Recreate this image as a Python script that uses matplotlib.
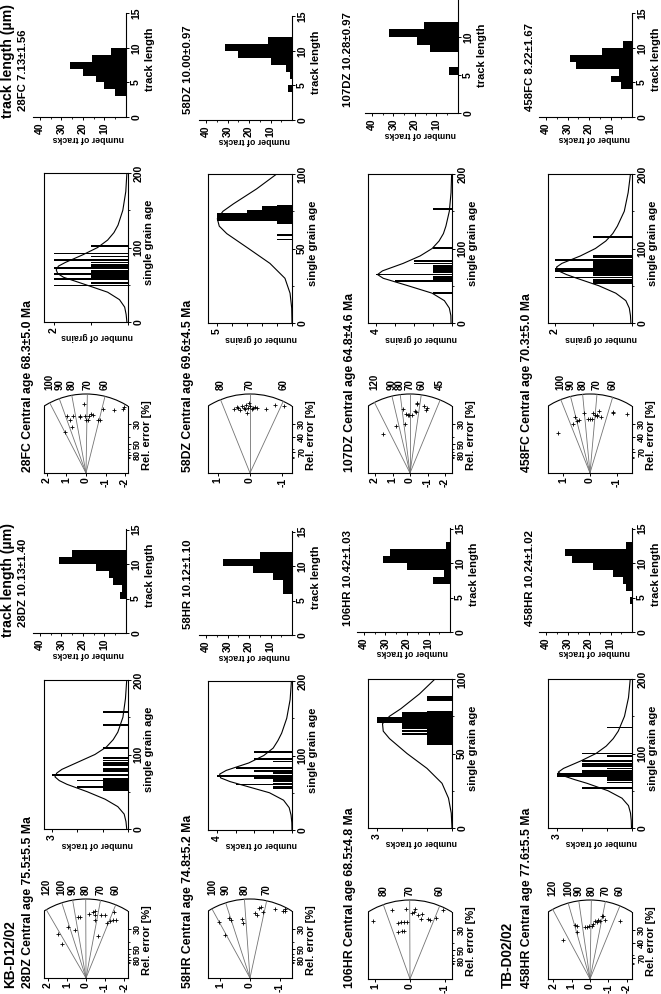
import numpy as np
import matplotlib.pyplot as plt
from matplotlib.patches import Arc

plt.rcParams["font.family"] = ["Liberation Sans", "DejaVu Sans"]
plt.rcParams["font.weight"] = "bold"
plt.rcParams["axes.linewidth"] = 0.8
for a in ("xtick", "ytick"):
    plt.rcParams[a + ".direction"] = "out"
    plt.rcParams[a + ".major.size"] = 2.5
    plt.rcParams[a + ".minor.size"] = 1.5
    plt.rcParams[a + ".major.width"] = 0.7
    plt.rcParams[a + ".minor.width"] = 0.6
    plt.rcParams[a + ".major.pad"] = 1.2
    plt.rcParams[a + ".labelsize"] = 7.5

# ---- labels ----
SAMPLES = ["28DZ", "58HR", "106HR", "458HR", "28FC", "58DZ", "107DZ", "458FC"]
CENTRAL_AGE = ["75.5±5.5", "74.8±5.2", "68.5±4.8", "77.6±5.5",
               "68.3±5.0", "69.6±4.5", "64.8±4.6", "70.3±5.0"]
MEAN_LENGTH = ["10.13±1.40", "10.12±1.10", "10.42±1.03", "10.24±1.02",
               "7.13±1.56", "10.00±0.97", "10.28±0.97", "8.22±1.67"]
COUNT_NAME = ["number of tracks"] * 4 + ["number of grains"] * 4

# ---- radial plots: standardised estimate (z) vs precision (p) ----
R28DZ_Z = [1.47, 1.26, 0.96, 0.60, 0.44, 0.33, -0.18, -0.37, -0.49, -0.46, -0.49,
           -0.62, -0.76, -0.98, -1.12, -1.28, -1.46, -1.44, -1.55]
R28DZ_P = [3.0, 2.3, 3.5, 3.3, 4.2, 4.2, 4.4, 4.5, 4.6, 4.3, 4.0,
           2.9, 4.3, 4.3, 3.8, 3.9, 4.5, 4.0, 4.0]
R58HR_Z = [1.05, 0.85, 0.70, 0.64, 0.28, 0.22, -0.17, -0.23, -0.31, -0.37, -0.45,
           -0.85, -1.13, -1.17, -1.19]
R58HR_P = [3.84, 2.94, 4.08, 3.98, 4.05, 3.77, 4.42, 4.33, 4.77, 4.85, 4.51,
           4.74, 4.6, 4.74, 4.57]
R106HR_Z = [1.05, 0.52, 0.33, 0.24, 0.17, 0.33, 0.27, 0.17, 0.08, 0.11, -0.05,
            -0.11, -0.14, -0.24, -0.33, -0.31, -0.52, -0.57, -0.74, -0.95]
R106HR_P = [4.0, 4.7, 3.24, 3.31, 3.31, 3.84, 3.89, 3.89, 3.93, 4.81, 4.53,
            4.58, 4.81, 4.35, 4.47, 4.12, 4.12, 4.07, 4.19, 4.7]
R458HR_Z = [1.46, 0.82, 0.73, 0.69, 0.27, 0.18, 0.04, -0.09, -0.18, -0.27, -0.37,
            -0.45, -0.55, -0.64, -0.73, -0.82, -1.64]
R458HR_P = [2.7, 3.7, 3.6, 3.2, 3.57, 3.54, 3.6, 3.6, 3.78, 3.94, 3.88,
            4.06, 3.99, 4.29, 4.29, 4.02, 3.94]
R28FC_Z = [1.09, 0.97, 0.83, 0.74, 0.68, 0.32, 0.29, 0.07, 0.0, -0.10, -0.17,
           -0.27, -0.34, -0.61, -0.73, -0.87, -1.41, -1.87, -1.92, 0.12]
R28FC_P = [2.79, 3.91, 3.65, 3.12, 3.87, 3.87, 3.83, 3.87, 3.65, 3.61, 3.91,
           4.04, 3.95, 3.65, 3.61, 4.36, 4.34, 4.4, 4.51, 4.73]
R58DZ_Z = [0.51, 0.41, 0.36, 0.31, 0.26, 0.20, 0.17, 0.13, 0.10, 0.07, 0.03,
           0.0, -0.05, -0.10, -0.15, -0.21, -0.51, -0.77, -1.06]
R58DZ_P = [4.35, 4.53, 4.42, 4.31, 4.58, 4.42, 4.35, 4.64, 4.14, 4.42, 4.79,
           4.58, 4.35, 4.46, 4.51, 4.42, 4.35, 4.68, 4.61]
R107DZ_Z = [1.52, 0.82, 0.42, 0.29, 0.23, 0.13, 0.04, -0.13, -0.29, -0.34, -0.38,
            -0.42, -0.80, -0.91, -0.99]
R107DZ_P = [2.67, 3.22, 4.38, 3.35, 4.05, 3.99, 3.95, 3.99, 4.28, 4.16, 4.78,
            4.71, 4.6, 4.32, 4.45]
R458FC_Z = [1.20, 0.65, 0.57, 0.48, 0.40, 0.23, 0.06, 0.0, -0.06, -0.13, -0.19,
            -0.25, -0.28, -0.35, -0.40, -0.86, -0.88, -1.38]
R458FC_P = [2.77, 3.33, 3.82, 3.55, 3.62, 4.11, 3.67, 3.67, 3.67, 4.11, 4.0,
            4.0, 3.89, 4.22, 3.84, 4.17, 4.11, 4.04]

RAD_AGES = [[120, 100, 90, 80, 70, 60], [100, 90, 80, 70], [80, 70, 60],
            [120, 100, 90, 80, 70, 60], [100, 90, 80, 70, 60], [80, 70, 60],
            [120, 90, 80, 70, 60, 45], [100, 90, 80, 70, 60]]
RAD_REF_AGE = [79.8, 77.4, 69.9, 81.0, 70.8, 70.0, 70.0, 74.7]
RAD_GAIN = [1.09, 1.06, 1.11, 1.09, 1.12, 1.36, 0.78, 0.75]
RAD_ZMAX = [2.2, 1.42, 1.2, 2.3, 2.15, 1.3, 2.4, 1.58]
RAD_ERR = [[80, 50, 30], [80, 50, 30], [80, 50, 30], [70, 40, 30],
           [80, 50, 30], [70, 40, 30], [80, 50, 30], [70, 40, 30]]

# ---- single grain age histograms ----
H28DZ_AGE = [157, 140, 109, 95, 92, 89, 86, 81, 78, 72, 67, 65, 63, 61, 59, 56, 54, 52]
H28DZ_N = [1, 1, 1, 1, 1, 1, 1, 1, 1, 3, 1, 2, 1, 1, 1, 2, 1, 1]
H58HR_AGE = [105, 95, 92, 83, 79, 76, 72, 70, 67, 65, 62, 61, 58, 56]
H58HR_N = [2, 2, 1, 3, 2, 1, 4, 2, 1, 1, 1, 3, 1, 1]
H106HR_AGE = [88, 87, 86, 78, 77, 76, 75, 74, 73, 72, 71, 70, 69, 68, 67, 66, 65,
              64, 63, 62, 61, 60, 59, 58, 57, 56]
H106HR_N = [1, 1, 1, 1, 2, 2, 2, 3, 3, 3, 3, 2, 2, 2, 2, 1, 2,
            1, 2, 1, 1, 1, 1, 1, 1, 1]
H458HR_AGE = [135, 100, 97, 90, 86, 83, 80, 77, 74, 72, 70, 67, 64, 61, 54]
H458HR_N = [1, 2, 1, 2, 2, 2, 1, 2, 2, 3, 3, 1, 1, 1, 2]
H28FC_AGE = [102, 92, 88, 83, 80, 77, 74, 72, 68, 66, 64, 62, 60, 58, 52, 49]
H28FC_N = [1, 2, 1, 2, 1, 1, 1, 2, 1, 1, 2, 1, 1, 2, 1, 2]
H58DZ_AGE = [79, 78, 77, 76, 75, 74, 73, 72, 71, 70, 69, 68, 67, 59, 56]
H58DZ_N = [1, 2, 2, 2, 3, 3, 5, 5, 5, 5, 5, 1, 1, 1, 1]
H107DZ_AGE = [153, 101, 83, 80, 77, 74, 71, 68, 65, 62, 59, 56, 40]
H107DZ_N = [1, 1, 2, 2, 1, 1, 1, 1, 4, 1, 1, 3, 1]
H458FC_AGE = [115, 90, 88, 85, 82, 80, 78, 76, 74, 72, 70, 68, 66, 64, 61, 58, 56, 54]
H458FC_N = [1, 1, 1, 2, 1, 1, 1, 1, 1, 2, 2, 1, 1, 1, 2, 1, 1, 1]

AGE_MAX = [200, 200, 100, 200, 200, 100, 200, 200]
COUNT_MAX = [3.3, 4.47, 3.36, 3.36, 2.27, 5.6, 4.4, 2.18]
COUNT_TOP = [3, 4, 3, 3, 2, 5, 4, 2]

# probability curves
CURVE_AGE_200 = [0, 10, 20, 30, 40, 50, 60, 65, 70, 75, 80, 90, 100, 110, 120, 130, 150, 175, 200]
CURVE_AGE_100 = [0, 10, 20, 30, 40, 50, 60, 65, 70, 75, 80, 90, 100]
C28DZ = [0.05, 0.08, 0.15, 0.4, 0.9, 1.6, 2.4, 2.7, 2.87, 2.8, 2.6, 1.95, 1.3, 0.85, 0.58, 0.4, 0.2, 0.1, 0.05]
C58HR = [0.0, 0.01, 0.05, 0.15, 0.45, 1.2, 2.6, 3.3, 3.8, 3.85, 3.5, 2.3, 1.5, 1.0, 0.75, 0.55, 0.28, 0.1, 0.03]
C106HR = [0.0, 0.03, 0.14, 0.4, 1.0, 1.8, 2.5, 2.75, 2.78, 2.5, 2.05, 1.3, 0.68]
C458HR = [0.02, 0.03, 0.06, 0.14, 0.4, 0.96, 1.8, 2.3, 2.74, 2.95, 2.74, 2.05, 1.44, 1.03, 0.75, 0.55, 0.3, 0.14, 0.07]
C28FC = [0.03, 0.05, 0.09, 0.23, 0.55, 1.14, 1.74, 1.9, 1.94, 1.88, 1.69, 1.23, 0.82, 0.55, 0.38, 0.27, 0.14, 0.06, 0.03]
C58DZ = [0.0, 0.02, 0.13, 0.47, 1.47, 2.9, 4.35, 4.85, 4.98, 4.6, 3.9, 2.36, 1.02]
C107DZ = [0.05, 0.06, 0.14, 0.4, 1.04, 2.3, 3.6, 3.9, 3.64, 3.1, 2.56, 1.67, 1.04, 0.68, 0.45, 0.32, 0.14, 0.05, 0.02]
C458FC = [0.03, 0.04, 0.07, 0.16, 0.42, 0.86, 1.43, 1.7, 1.91, 1.96, 1.82, 1.34, 0.95, 0.68, 0.5, 0.38, 0.2, 0.1, 0.04]

# ---- track length histograms (1 um bins) ----
TL_START = [5, 6, 7, 4, 3, 4, 5, 4]
T28DZ = [3, 2, 6, 8, 14, 31, 25]
T58HR = [4, 4, 9, 18, 32, 15]
T106HR = [8, 3, 20, 31, 28, 2]
T458HR = [1, 0, 3, 4, 9, 18, 28, 31, 3]
T28FC = [5, 10, 14, 20, 26, 16, 7]
T58DZ = [2, 0, 1, 3, 10, 25, 31, 11]
T107DZ = [4, 0, 0, 13, 19, 32, 16]
T458FC = [5, 10, 6, 26, 29, 14, 4]

RAD_Z = [R28DZ_Z, R58HR_Z, R106HR_Z, R458HR_Z, R28FC_Z, R58DZ_Z, R107DZ_Z, R458FC_Z]
RAD_P = [R28DZ_P, R58HR_P, R106HR_P, R458HR_P, R28FC_P, R58DZ_P, R107DZ_P, R458FC_P]
HIST_AGE = [H28DZ_AGE, H58HR_AGE, H106HR_AGE, H458HR_AGE, H28FC_AGE, H58DZ_AGE, H107DZ_AGE, H458FC_AGE]
HIST_N = [H28DZ_N, H58HR_N, H106HR_N, H458HR_N, H28FC_N, H58DZ_N, H107DZ_N, H458FC_N]
CURVES = [C28DZ, C58HR, C106HR, C458HR, C28FC, C58DZ, C107DZ, C458FC]
TRACKS = [T28DZ, T58HR, T106HR, T458HR, T28FC, T58DZ, T107DZ, T458FC]

# ---- layout in output pixels (figure is drawn turned by 90 degrees) ----
W, H = 661, 994
ROW_X = [(44, 128), (208, 292), (368, 452), (548, 632)]
RAD_ORG = [978, 978, 979, 979, 473, 473, 473, 473]
HIST_Y0 = [829, 830, 828, 828, 322, 323, 323, 323]
TL_Y0 = [633, 635, 632, 632, 117, 120, 113, 117]
TL_PX_UM = [6.9, 6.9, 6.9, 6.9, 6.9, 6.9, 7.6, 6.9]
TL_SPINE = [126, 292, 450, 632, 126, 292, 458, 632]
TITLE_X = [28, 188, 350, 527]
TL_TITLE_X = [23, 188, 348, 530]

fig = plt.figure(figsize=(W / 100, H / 100), dpi=100)


def px_axes(x0, x1, y0, y1):
    return fig.add_axes([x0 / W, 1 - y1 / H, (x1 - x0) / W, (y1 - y0) / H])


def ftext(x, y, s, size, rot=90, ha="center", va="center"):
    fig.text(x / W, 1 - y / H, s, fontsize=size, rotation=rot, ha=ha, va=va,
             fontweight="bold")


def draw_radial(i, sp=14.6, R=79):
    x0, x1 = ROW_X[i % 4]
    yo = RAD_ORG[i]
    zmax = RAD_ZMAX[i]
    ax = px_axes(x0, x1, yo - R - 1, yo)
    sz = (x1 - x0) / (2 * zmax)
    ax.set_xlim(zmax, -zmax)
    ax.set_ylim(0, (R + 1) / sp)
    ax.spines["top"].set_visible(False)
    phi = np.arcsin(min(1.0, zmax * sz / R))
    p_edge = R * np.cos(phi) / sp
    ax.spines["left"].set_bounds(0, p_edge)
    ax.spines["right"].set_bounds(0, p_edge)
    ax.add_patch(Arc((0, 0), 2 * R / sz, 2 * R / sp, theta1=90 - np.degrees(phi),
                     theta2=90 + np.degrees(phi), color="k", lw=0.8))
    for t in RAD_AGES[i]:
        m = RAD_GAIN[i] * np.log(t / RAD_REF_AGE[i])
        pe = R / np.hypot(m * sz, sp)
        ze = m * pe
        ax.plot([0, ze], [0, pe], color="0.45", lw=0.6)
        ax.text(ze, (R + 4) / sp, str(t), rotation=90, ha="center", va="bottom",
                fontsize=7, fontweight="bold")
    ax.plot(RAD_Z[i], RAD_P[i], "+", color="k", ms=3.5, mew=0.6)
    zt = [2, 1, 0, -1, -2] if zmax > 2 else [1, 0, -1]
    ax.set_xticks(zt)
    ax.set_xticklabels([str(v) for v in zt], rotation=90)
    ax.yaxis.tick_right()
    errs = RAD_ERR[i]
    ax.set_yticks([100 / e for e in errs])
    ax.set_yticklabels([str(e) for e in errs], rotation=90, va="center", fontsize=6.5)
    ax.set_yticks([100 / e for e in (100, 90, 70, 60, 40)], minor=True)
    ax.tick_params(axis="x", length=2)
    ftext(x1 + 19, yo - 38, "Rel. error [%]", 8)


def draw_hist(i):
    x0, x1 = ROW_X[i % 4]
    y0 = HIST_Y0[i]
    ax = px_axes(x0, x1, y0 - 149, y0)
    amax = AGE_MAX[i]
    bw = 2.4 if amax == 200 else 1.05
    ax.barh(HIST_AGE[i], HIST_N[i], height=bw, color="k", lw=0)
    cage = CURVE_AGE_200 if amax == 200 else CURVE_AGE_100
    ax.plot(CURVES[i], cage, color="k", lw=0.8)
    ax.set_xlim(COUNT_MAX[i], 0)
    ax.set_ylim(0, amax)
    n = COUNT_TOP[i]
    ax.set_xticks(range(0, n + 1))
    ax.set_xticklabels([""] * n + [str(n)], rotation=90)
    ax.yaxis.tick_right()
    ax.set_yticks([0, amax / 2, amax])
    ax.set_yticklabels([str(int(v)) for v in (0, amax / 2, amax)], rotation=90, va="center")
    ax.set_yticks([amax / 4, 3 * amax / 4], minor=True)
    ftext(x1 + 21, y0 - 80, "single grain age", 8)
    ftext((x0 + x1) / 2 + 11, y0 + 15, COUNT_NAME[i], 6.3, rot=180)


def draw_track(i):
    xs = TL_SPINE[i]
    y0 = TL_Y0[i]
    k = TL_PX_UM[i]
    ax = px_axes(xs - 93, xs, y0 - 15.1 * k, y0)
    counts = TRACKS[i]
    bins = np.arange(TL_START[i], TL_START[i] + len(counts))
    ax.barh(bins, counts, height=1, align="edge", color="k", lw=0)
    ax.set_xlim(93 / 2.15, 0)
    ax.set_ylim(0, 15.1)
    ax.spines["top"].set_visible(False)
    ax.spines["left"].set_visible(False)
    ax.yaxis.tick_right()
    ax.set_xticks([10, 20, 30, 40])
    ax.set_xticklabels(["10", "20", "30", "40"], rotation=90)
    ax.set_xticks([5, 15, 25, 35], minor=True)
    ax.set_yticks([0, 5, 10, 15])
    # the top label of the panel touching the page edge is cut off in the source
    top = "15" if y0 - 15 * k > 8 else ""
    ax.set_yticklabels(["0", "5", "10", top], rotation=90, va="center")
    ftext(xs + 24, y0 - 58, "track length", 8)
    ftext(xs - 38, y0 + 21, "number of tracks", 6.3, rot=180)


for i in range(8):
    draw_radial(i)
    draw_hist(i)
    draw_track(i)

for j in range(8):
    r = j % 4
    yb = 988 if j < 4 else 472
    ftext(TITLE_X[r], yb, f"{SAMPLES[j]} Central age {CENTRAL_AGE[j]} Ma", 8.8, va="bottom")
    ytl = TL_Y0[j] - 6
    ftext(TL_TITLE_X[r], ytl, f"{SAMPLES[j]} {MEAN_LENGTH[j]}", 8.2, va="bottom")

ftext(8, 637, "track length (µm)", 10.2, va="bottom")
ftext(8, 118, "track length (µm)", 10.2, va="bottom")
ftext(10, 988, "KB-D12/02", 9.8, va="bottom")
ftext(508, 988, "TB-D02/02", 9.8, va="bottom")

fig.savefig("out.png", dpi=100)
